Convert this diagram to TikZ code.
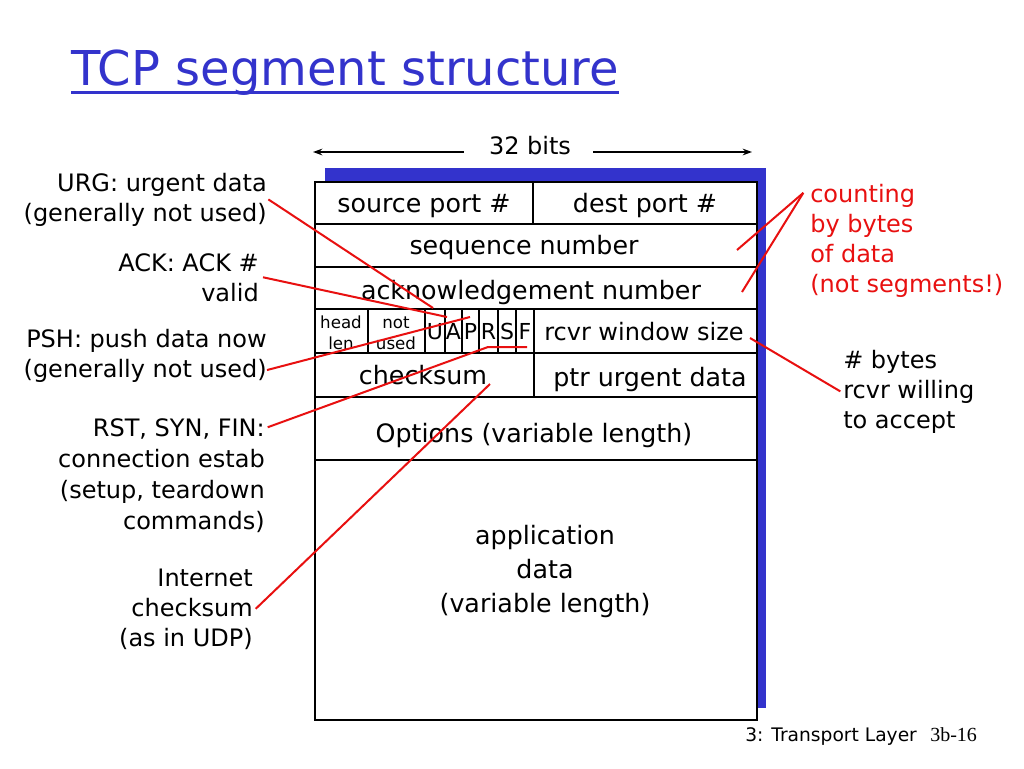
\documentclass[tikz,border=0pt]{standalone}
\usepackage{fontspec}
\setmainfont{DejaVu Sans}
\newfontfamily\timesf{Liberation Serif}
\usetikzlibrary{arrows.meta}
\definecolor{tblue}{RGB}{51,51,204}
\definecolor{tred}{RGB}{232,16,16}
\begin{document}
\begin{tikzpicture}[x=0.75pt,y=-0.75pt,
  field/.style={font=\fontsize{19}{25.5}\selectfont, inner sep=0pt, anchor=base},
  small/.style={font=\fontsize{12.5}{15.75}\selectfont, inner sep=0pt, anchor=base, align=center},
  flag/.style={font=\fontsize{16.5}{18}\selectfont, inner sep=0pt, anchor=base},
  note/.style={font=\fontsize{18}{22.5}\selectfont, inner sep=0pt, align=right, anchor=base east},
  lnote/.style={font=\fontsize{18}{22.5}\selectfont, inner sep=0pt, align=left, anchor=base west},
  redline/.style={draw=tred, line width=1.5pt},
  grid/.style={line width=1.3pt},
  bitarrow/.style={line width=1.2pt, -{Stealth[length=7pt,width=5pt]}}
]
\useasboundingbox (0,0) rectangle (1024,768);
\fill[white] (0,0) rectangle (1024,768);

% title
\node[anchor=base west, text=tblue, inner sep=0pt, font=\fontsize{36}{40}\selectfont] (title) at (71,85) {TCP segment structure};
\draw[tblue, line width=2.5pt] ([yshift=-5.5pt]title.base west) -- ([yshift=-5.5pt]title.base east);

% 32 bits
\node[font=\fontsize{18}{22}\selectfont, inner sep=0pt, anchor=base] (bits) at (530,154) {32 bits};
\coordinate (bl) at (313,152);
\coordinate (br) at (752,152);
\draw[bitarrow] (bits.west |- bl) ++(-25,0) -- (bl);
\draw[bitarrow] (bits.east |- br) ++(22,0) -- (br);

% shadow and box
\fill[tblue] (325,168) rectangle (766,708);
\draw[grid, fill=white, line width=1.6pt] (315,182) rectangle (757,720);
\foreach \yy in {224,267,309,353,397,460} \draw[grid] (315,\yy) -- (757,\yy);
\draw[grid] (533,182) -- (533,224);
\foreach \xx in {368,425,445,462,479,498,516,534} \draw[grid] (\xx,309) -- (\xx,353);
\draw[grid] (534,353) -- (534,397);

% field texts (base = baseline of last line)
\node[field] (src) at (424,212) {source port \#};
\node[field] (dst) at (645,212) {dest port \#};
\node[field] (seq) at (524,254) {sequence number};
\node[field] (ackn) at (531,299) {acknowledgement number};
\node[small] (hl) at (341,349) {head\\len};
\node[small] (nu) at (396,349) {not\\used};
\node[flag] (fu) at (435,339) {U};
\node[flag] (fa) at (453.5,339) {A};
\node[flag] (fp) at (470.5,339) {P};
\node[flag] (fr) at (488.5,339) {R};
\node[flag] (fs) at (507,339) {S};
\node[flag] (ff) at (525,339) {F};
\node[field, font=\fontsize{18}{25.5}\selectfont] (rwin) at (644,340) {rcvr window size};
\node[field] (csum) at (423,384) {checksum};
\node[field] (purg) at (650,386) {ptr urgent data};
\node[field] (opt) at (534,442) {Options (variable length)};
\node[field, align=center] (app) at (545,612) {application\\data\\(variable length)};

% left notes
\node[note] (urg) at (267,221) {URG: urgent data\\(generally not used)};
\node[note] (ack) at (259,301) {ACK: ACK \#\\valid};
\node[note] (psh) at (267,377) {PSH: push data now\\(generally not used)};
\node[note, font=\fontsize{18}{23.25}\selectfont] (rst) at (265,529) {RST, SYN, FIN:\\connection estab\\(setup, teardown\\commands)};
\node[note] (inet) at (253,646) {Internet\\checksum\\(as in UDP)};

% right notes
\node[lnote, text=tred] (cnt) at (810,292) {counting\\by bytes\\of data\\(not segments!)};
\node[lnote] (byt) at (843,428) {\# bytes\\rcvr willing\\to accept};

% connector end points
\coordinate (eurg) at (433,308);
\coordinate (eack) at (447,317);
\coordinate (epsh) at (470,317);
\coordinate (erst1) at (488,347);
\coordinate (erst2) at (527,347);
\coordinate (ecs) at (490,384);
\coordinate (eseq) at (737,250);
\coordinate (eackn) at (742,292);
\coordinate (erw) at (750,338);

\draw[redline] ([xshift=1pt]urg.east) -- (eurg);
\draw[redline] ([xshift=3pt]ack.east) -- (eack);
\draw[redline] ([xshift=0pt,yshift=-11pt]psh.east) -- (epsh);
\draw[redline] ([xshift=2pt,yshift=-7pt]rst.north east) -- (erst1) -- (erst2);
\draw[redline] ([xshift=2pt]inet.east) -- (ecs);
\draw[redline] ([xshift=-5pt,yshift=-7pt]cnt.north west) -- (eseq);
\draw[redline] ([xshift=-5pt,yshift=-7pt]cnt.north west) -- (eackn);
\draw[redline] ([xshift=-2pt]byt.west) -- (erw);

% footer
\node[anchor=base west, inner sep=0pt, font=\fontsize{14}{16}\selectfont] (foot) at (745,741) {3: Transport Layer};
\node[anchor=base west, inner sep=0pt, font=\timesf\fontsize{15}{17}\selectfont] (page) at (930,741) {3b-16};
\end{tikzpicture}
\end{document}
